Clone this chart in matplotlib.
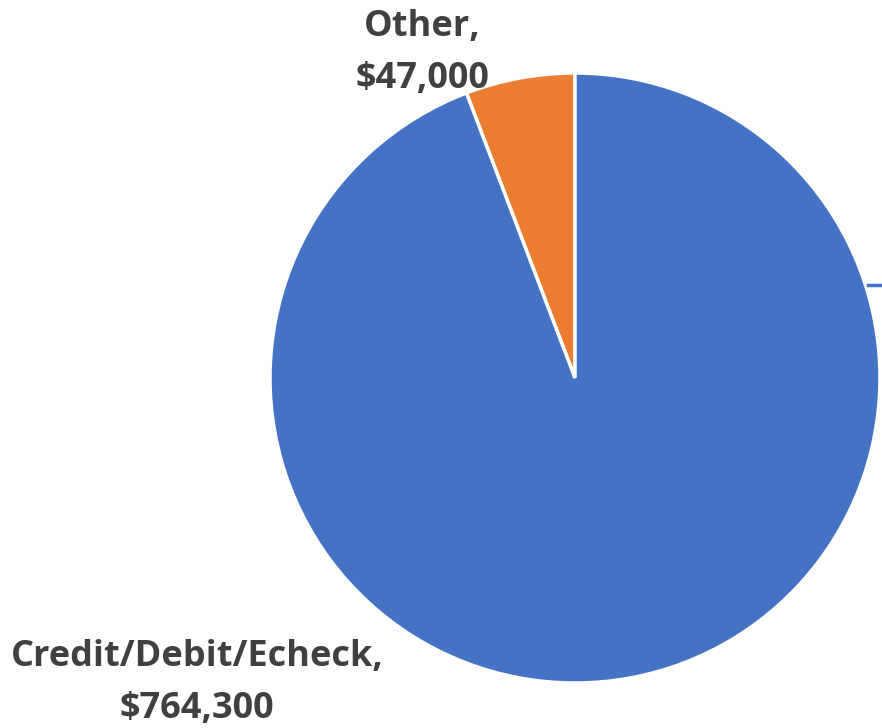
import matplotlib.pyplot as plt

labels = ["Other", "Credit/Debit/Echeck"]
amounts = [47000, 764300]
colors = ["#ED7D31", "#4472C4"]

W, H = 882, 728
cx, cy, r = 575, 378, 305  # pie centre and radius in pixels


def px(x, y):
    # pixel position (top-left origin) -> data units of the pie (radius 1)
    return (x - cx) / r, (cy - y) / r


fig = plt.figure(figsize=(W / 100, H / 100), dpi=100)
ax = fig.add_axes([0, 0, 1, 1])

ax.pie(amounts, colors=colors, startangle=90, counterclock=True,
       wedgeprops=dict(edgecolor="white", linewidth=2.5))

ax.set_xlim(px(0, 0)[0], px(W, 0)[0])
ax.set_ylim(px(0, H)[1], px(0, 0)[1])
ax.set_aspect("auto")
ax.axis("off")

font = dict(family=["Open Sans", "DejaVu Sans"], fontsize=26, fontweight="bold",
            color="#404040", ha="center", va="center", linespacing=1.6)

ax.text(*px(422, 53), f"{labels[0]},\n${amounts[0]:,}", **font)
ax.text(*px(197, 683), f"{labels[1]},\n${amounts[1]:,}", **font)

# leader line stub at the right edge
x0, y0 = px(868, 285)
x1, _ = px(882, 285)
ax.plot([x0, x1], [y0, y0], color="#4472C4", linewidth=2.5)

fig.savefig("out.png", dpi=100)
